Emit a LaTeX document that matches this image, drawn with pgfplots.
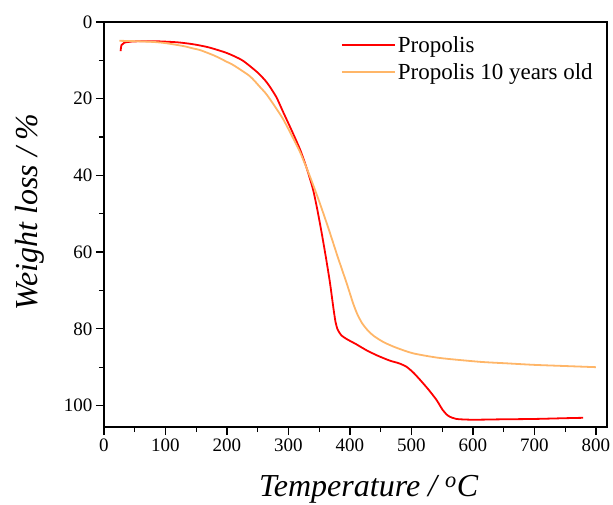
\documentclass[border=0pt]{standalone}
\usepackage{fontspec}
\setmainfont{Liberation Serif}
\usepackage{pgfplots}
\pgfplotsset{compat=1.18}
\definecolor{propred}{RGB}{255,0,0}
\definecolor{proporange}{RGB}{255,182,104}
\begin{document}
\begin{tikzpicture}
\begin{axis}[
  scale only axis,
  width=503pt, height=405pt,
  xmin=0, xmax=818, ymin=0, ymax=105.6,
  y dir=reverse,
  xtick={0,100,...,800}, minor x tick num=1,
  ytick={0,20,...,100}, minor y tick num=1,
  xtick pos=lower, ytick pos=left,
  xticklabel pos=lower,
  tick align=outside,
  major tick length=8pt, minor tick length=5pt,
  every tick/.style={black, line width=1.3pt},
  axis line style={line width=1.6pt},
  /pgf/number format/assume math mode=true,
  tick label style={font=\rmfamily\fontsize{19}{22}\selectfont},
  label style={font=\fontsize{32}{36}\selectfont\itshape},
  xlabel={Temperature / \textsuperscript{o}C},
  ylabel={Weight loss / \%},
  xlabel style={at={(axis description cs:0.526,-0.171)}, anchor=base},
  ylabel style={at={(axis description cs:-0.133,0.531)}, rotate=0, anchor=base},
  legend style={at={(axis description cs:0.465,0.975)}, anchor=north west, draw=none, fill=none,
    font=\fontsize{23}{25}\selectfont, row sep=5.5pt},
  legend cell align=left,
  legend image code/.code={\draw[#1] (0pt,0pt) -- (53pt,0pt);},
]
\addplot[propred, line width=1.8pt, smooth, tension=0.4] coordinates {
(27,7.6) (28.5,6.0) (33,5.4) (45,5.1) (65,5.0) (90,5.05) (120,5.3) (145,5.8)
(170,6.6) (200,8.1) (225,10.0) (250,13.2) (265,15.8) (280,19.5) (292,23.7)
(305,28.2) (319,33.3) (330,38.3) (340,43.7) (347,49) (354,55) (361,61.5)
(367.5,68) (373,74.5) (376.5,78.2) (380,80.2) (386,81.7) (395,82.7) (410,84)
(427,85.6) (445,87) (465,88.3) (480,89) (492,89.9) (503,91.4) (514,93.3)
(528,95.9) (541,98.6) (551,101.2) (560,102.7) (573,103.5) (600,103.7)
(644,103.6) (700,103.5) (750,103.3) (779,103.2)
};
\addlegendentry{Propolis}
\addplot[proporange, line width=1.8pt, smooth, tension=0.4] coordinates {
(25,4.9) (50,5.0) (80,5.2) (100,5.5) (130,6.3) (145,6.9) (156,7.3) (180,8.8)
(200,10.4) (210,11.2) (237,14.1) (254,17.0) (264.5,18.9) (280,22.5)
(291.6,25.4) (305,29.5) (319,34) (335,40.3) (350,46.8) (365,53.8) (380,61.2)
(394.6,68.1) (405,73.3) (412,76.2) (420,78.6) (430,80.6) (440,82.0)
(455,83.5) (475,84.9) (503,86.4) (546,87.6) (611,88.6) (655,89) (700,89.4)
(750,89.7) (800,90)
};
\addlegendentry{Propolis 10 years old}
\end{axis}
\pgfresetboundingbox
\useasboundingbox ([shift={(-104pt,-77.3pt)}]current axis.south west) rectangle ([shift={(6pt,22pt)}]current axis.north east);
\end{tikzpicture}
\end{document}
